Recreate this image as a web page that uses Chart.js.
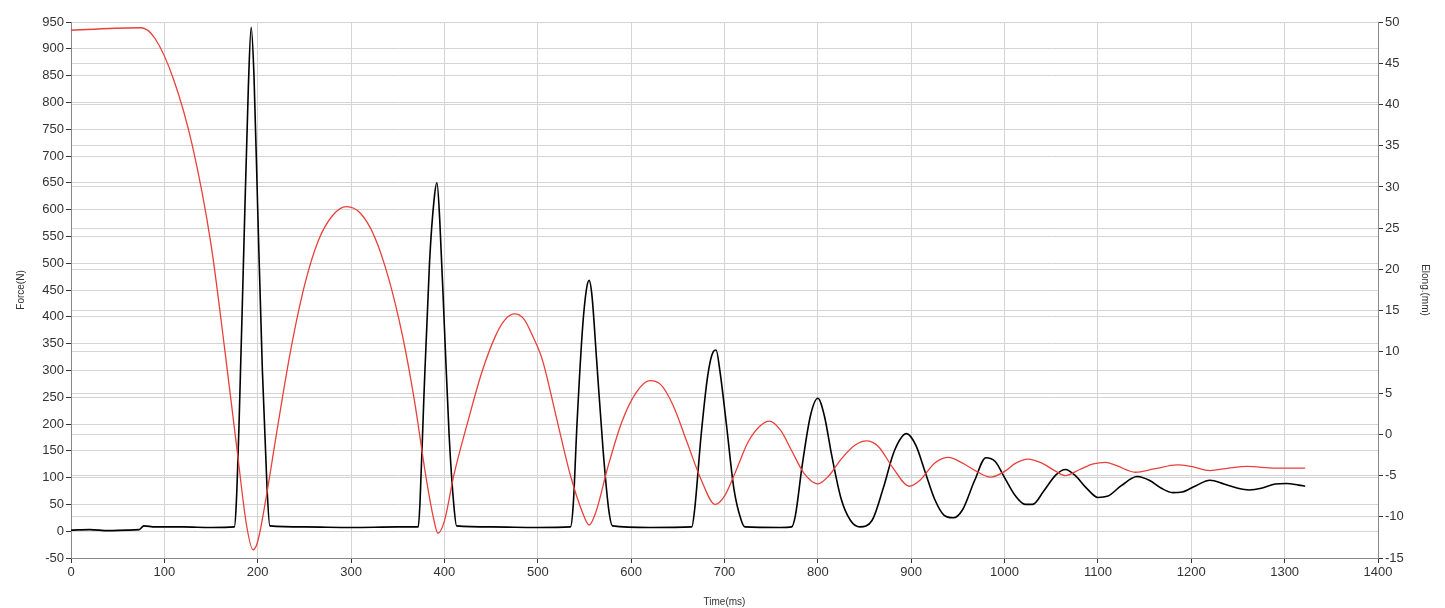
<!DOCTYPE html>
<html>
<head>
<meta charset="utf-8">
<script src="https://cdn.jsdelivr.net/npm/chart.js@4"></script>
<style>
  html, body { margin: 0; padding: 0; background: #fff; }
  #c { display: block; }
</style>
</head>
<body>
<canvas id="c" width="1445" height="608"></canvas>
<script>
// Fuerza (N) vs tiempo (ms)
const forceTime = [0,20,40,60,73,78,90,120,150,175,177,180,185,190,193,196,200,205,210,213,250,300,350,372,374,378,384,389,392,395,400,405,410,413,450,500,535,538,542,548,552,555,558,563,570,576,580,620,665,668,675,682,688,691,695,702,710,718,722,760,772,776,783,792,800,807,815,825,835,845,858,870,882,895,905,915,925,935,945,955,968,980,990,1000,1012,1022,1030,1042,1055,1065,1075,1088,1100,1110,1125,1142,1155,1168,1180,1190,1205,1220,1235,1250,1262,1275,1290,1302,1315,1322];
const forceVal = [2,3,1,2,3,10,8,8,7,8,50,200,520,830,940,850,600,300,80,10,8,7,8,8,60,250,500,620,650,580,380,180,50,10,8,7,8,50,200,380,450,468,440,320,150,40,10,7,8,40,180,290,335,338,300,200,80,20,8,7,8,30,120,215,248,215,140,60,20,8,20,80,150,182,160,110,60,30,25,40,95,137,130,100,65,50,50,75,105,115,105,80,63,65,85,102,95,80,72,73,85,95,88,80,77,80,88,89,86,84];

// Elongacion (mm) vs tiempo (ms)
const elongTime = [0,75,90,110,130,150,165,178,188,195,200,210,220,235,250,265,280,295,310,325,340,355,368,380,388,393,400,410,425,440,455,465,475,485,495,505,520,535,548,555,562,575,590,605,620,632,645,660,675,690,700,712,725,738,748,760,772,785,800,812,825,840,852,865,880,898,910,925,940,955,970,985,1000,1012,1025,1040,1055,1065,1080,1095,1108,1120,1140,1160,1185,1200,1220,1240,1260,1290,1322];
const elongVal = [49,49.3,48,43,35,23,10,-2,-11,-14,-13,-7,0,10,18,23.5,26.5,27.6,26.8,24,19,12,4,-5,-10,-12,-10.5,-5,1.5,7.5,12,13.9,14.6,14,11.8,9,2,-5,-9.5,-11,-9.5,-4,1.5,5,6.5,6,3.5,-1,-5.5,-8.5,-7.5,-4.5,-1,1,1.6,0.5,-2,-4.7,-6,-5,-3,-1.3,-0.8,-1.5,-4,-6.3,-5.5,-3.5,-2.8,-3.5,-4.5,-5.2,-4.5,-3.5,-3,-3.5,-4.5,-5,-4.3,-3.6,-3.4,-3.8,-4.6,-4.2,-3.7,-3.9,-4.4,-4.1,-3.9,-4.1,-4.1];

const FONT = "'Liberation Sans', Arial, sans-serif";
const tickFont = { family: FONT, size: 13 };
const titleFont = { family: FONT, size: 10 };

function pts(xs, ys) {
  return xs.map((x, i) => ({ x: x, y: ys[i] }));
}

new Chart(document.getElementById("c"), {
  type: "line",
  data: {
    datasets: [
      {
        label: "Elong",
        data: pts(elongTime, elongVal),
        yAxisID: "yR",
        borderColor: "#e8403c",
        borderWidth: 1.3,
        pointRadius: 0,
        cubicInterpolationMode: "monotone",
      },
      {
        label: "Force",
        data: pts(forceTime, forceVal),
        yAxisID: "yL",
        borderColor: "#000",
        borderWidth: 1.6,
        pointRadius: 0,
        cubicInterpolationMode: "monotone",
      },
    ],
  },
  options: {
    responsive: false,
    animation: false,
    layout: { padding: { top: 22, right: 14, left: 15, bottom: 0 } },
    plugins: { legend: { display: false }, tooltip: { enabled: false } },
    scales: {
      x: {
        type: "linear",
        min: 0,
        max: 1400,
        ticks: { stepSize: 100, color: "#333", font: tickFont, padding: 2, callback: (v) => String(v) },
        grid: { color: "#d4d4d4", tickColor: "#333", tickLength: 5 },
        border: { color: "#888" },
        title: { display: true, text: "Time(ms)", color: "#333", font: titleFont, padding: 0 },
        afterFit: (s) => { s.height = 50; },
      },
      yL: {
        position: "left",
        min: -50,
        max: 950,
        ticks: { stepSize: 50, color: "#333", font: tickFont, padding: 2 },
        grid: { color: "#d4d4d4", tickColor: "#333", tickLength: 5 },
        border: { color: "#888" },
        title: { display: true, text: "Force(N)", color: "#333", font: titleFont, padding: 0 },
        afterFit: (s) => { s.width = 56; },
      },
      yR: {
        position: "right",
        min: -15,
        max: 50,
        ticks: { stepSize: 5, color: "#333", font: tickFont, padding: 2 },
        grid: { color: "#d4d4d4", tickColor: "#333", tickLength: 5 },
        border: { color: "#888" },
        title: { display: true, text: "Elong.(mm)", color: "#333", font: titleFont, padding: 0 },
        afterFit: (s) => { s.width = 53; },
      },
    },
  },
});
</script>
</body>
</html>
